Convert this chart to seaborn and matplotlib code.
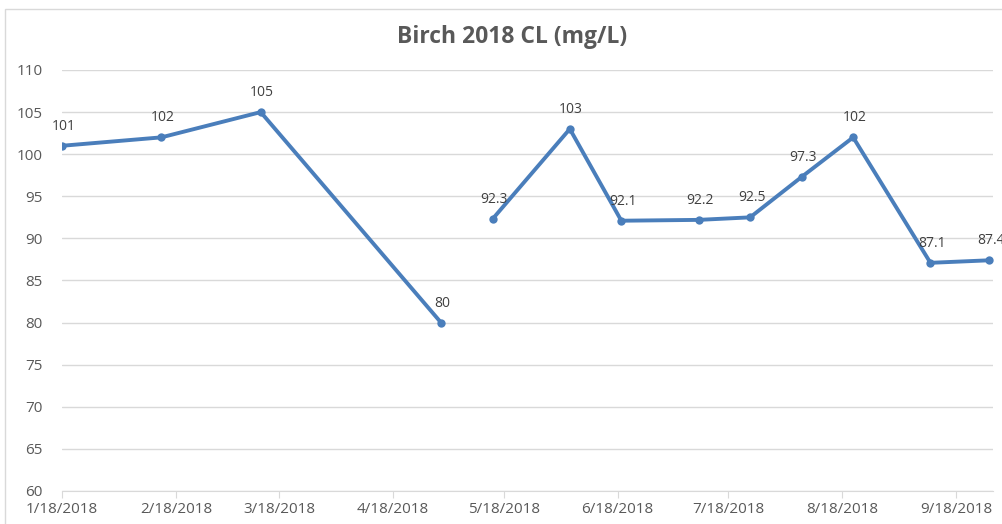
import matplotlib
matplotlib.use("Agg")
import pandas as pd
import matplotlib.pyplot as plt
import matplotlib.dates as mdates
from matplotlib.ticker import FuncFormatter
import seaborn as sns

# Sample dates and chloride readings (blank reading leaves a gap in the line)
sample_dates = ["2018-01-18", "2018-02-14", "2018-03-13", "2018-05-01", "2018-05-08",
                "2018-05-15", "2018-06-05", "2018-06-19", "2018-07-10", "2018-07-24",
                "2018-08-07", "2018-08-21", "2018-09-11", "2018-09-27"]
cl_values = [101, 102, 105, 80, None, 92.3, 103, 92.1, 92.2, 92.5, 97.3, 102, 87.1, 87.4]
y_ticks = [60, 65, 70, 75, 80, 85, 90, 95, 100, 105, 110]

LINE_COLOR = "#4a7ebb"
GRID_COLOR = "#d9d9d9"
TEXT_COLOR = "#595959"

df = pd.DataFrame({"date": pd.to_datetime(sample_dates), "cl": cl_values})
# split into separate runs wherever a value is missing
df["segment"] = df["cl"].isna().cumsum()
df = df.dropna()

sns.set_style("white")
plt.rcParams["font.family"] = ["Open Sans", "DejaVu Sans"]

fig, ax = plt.subplots(figsize=(10.02, 5.24), dpi=100)
fig.subplots_adjust(left=62 / 1002, right=993 / 1002, bottom=33 / 524, top=454 / 524)

sns.lineplot(data=df, x="date", y="cl", units="segment", estimator=None,
             color=LINE_COLOR, linewidth=2.8, marker="o", markersize=6,
             markeredgewidth=0, ax=ax)

# data labels above each point
for d, v in zip(df["date"], df["cl"]):
    ax.annotate(f"{v:g}", (d, v), xytext=(1, 14), textcoords="offset points",
                ha="center", va="center", fontsize=10, color="#404040",
                annotation_clip=False)

ax.set_ylim(60, 110)
ax.set_yticks(y_ticks)
ax.set_xlim(pd.Timestamp("2018-01-18"), pd.Timestamp("2018-09-28"))
ax.xaxis.set_major_locator(mdates.MonthLocator(bymonthday=18))


def fmt_date(x, pos):
    d = mdates.num2date(x)
    return f"{d.month}/{d.day}/{d.year}"


ax.xaxis.set_major_formatter(FuncFormatter(fmt_date))

ax.yaxis.grid(True, color=GRID_COLOR, linewidth=1)
ax.xaxis.grid(False)
for side in ["left", "right", "top"]:
    ax.spines[side].set_visible(False)
ax.spines["bottom"].set_color(GRID_COLOR)
ax.tick_params(axis="x", bottom=True, length=5, color=GRID_COLOR, pad=3,
               labelsize=11, labelcolor=TEXT_COLOR)
ax.tick_params(axis="y", left=False, length=0, pad=14, labelsize=11,
               labelcolor=TEXT_COLOR)
ax.set_xlabel("")
ax.set_ylabel("")

fig.text(0.511, 1 - 37 / 524, "Birch 2018 CL (mg/L)", ha="center", va="center",
         fontsize=16.5, fontweight="bold", color=TEXT_COLOR)

# light chart frame, cut off at the right and bottom like the source image
frame = plt.Rectangle((5 / 1002, -0.1), 1.2, 1.1 - 9 / 524, transform=fig.transFigure,
                      fill=False, edgecolor=GRID_COLOR, linewidth=1)
fig.patches.append(frame)

fig.savefig("out.png", dpi=100)
